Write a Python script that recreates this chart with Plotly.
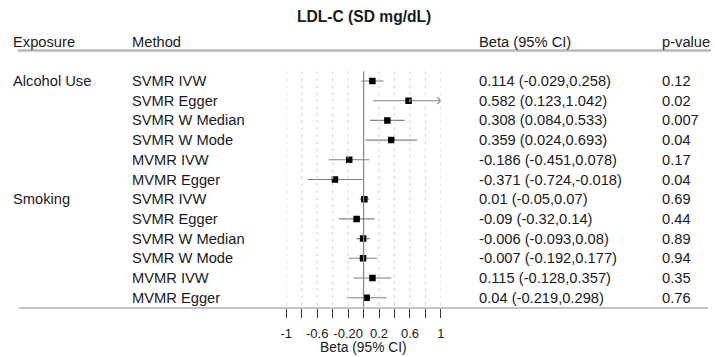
import plotly.graph_objects as go

# ---- data ----
exposures = ["Alcohol Use", "", "", "", "", "", "Smoking", "", "", "", "", ""]
methods = ["SVMR IVW", "SVMR Egger", "SVMR W Median", "SVMR W Mode", "MVMR IVW", "MVMR Egger",
           "SVMR IVW", "SVMR Egger", "SVMR W Median", "SVMR W Mode", "MVMR IVW", "MVMR Egger"]
beta = [0.114, 0.582, 0.308, 0.359, -0.186, -0.371, 0.01, -0.09, -0.006, -0.007, 0.115, 0.04]
lower = [-0.029, 0.123, 0.084, 0.024, -0.451, -0.724, -0.05, -0.32, -0.093, -0.192, -0.128, -0.219]
upper = [0.258, 1.042, 0.533, 0.693, 0.078, -0.018, 0.07, 0.14, 0.08, 0.177, 0.357, 0.298]
beta_txt = ["0.114 (-0.029,0.258)", "0.582 (0.123,1.042)", "0.308 (0.084,0.533)",
            "0.359 (0.024,0.693)", "-0.186 (-0.451,0.078)", "-0.371 (-0.724,-0.018)",
            "0.01 (-0.05,0.07)", "-0.09 (-0.32,0.14)", "-0.006 (-0.093,0.08)",
            "-0.007 (-0.192,0.177)", "0.115 (-0.128,0.357)", "0.04 (-0.219,0.298)"]
pvals = ["0.12", "0.02", "0.007", "0.04", "0.17", "0.04", "0.69", "0.44", "0.89", "0.94", "0.35", "0.76"]
tick_vals = [-1, -0.8, -0.6, -0.4, -0.2, 0, 0.2, 0.4, 0.6, 0.8, 1]
tick_text = ["-1", "", "-0.6", "", "-0.20", "", "0.2", "", "0.6", "", "1"]
x_min, x_max = -1, 1
title = "LDL-C (SD mg/dL)"
headers = ["Exposure", "Method", "Beta (95% CI)", "p-value"]

FONT = "Liberation Sans, Arial, sans-serif"
TXT = "#1a1a1a"
FS = 14.7
rows = list(range(1, len(methods) + 1))
row_bottom = len(methods) + 0.5

fig = go.Figure()

# CI segments (clipped to axis range)
cx, cy = [], []
for r, lo, hi in zip(rows, lower, upper):
    cx += [max(lo, x_min), min(hi, x_max), None]
    cy += [r, r, None]
# open arrowheads for CIs truncated at the axis limit
for r, hi in zip(rows, upper):
    if hi > x_max:
        cx += [x_max - 0.045, x_max, x_max - 0.045, None]
        cy += [r - 0.17, r, r + 0.17, None]
fig.add_trace(go.Scatter(x=cx, y=cy, mode="lines", line=dict(color="#7f7f7f", width=1.1),
                         hoverinfo="skip", showlegend=False))
# point estimates
fig.add_trace(go.Scatter(x=beta, y=rows, mode="markers",
                         marker=dict(symbol="square", size=6.5, color="black"),
                         showlegend=False))

shapes = []
# grid lines
for t in tick_vals:
    if t == 0:
        shapes.append(dict(type="line", xref="x", yref="y", x0=t, x1=t, y0=0.5, y1=row_bottom,
                           line=dict(color="#8a8a8a", width=1.3)))
    else:
        shapes.append(dict(type="line", xref="x", yref="y", x0=t, x1=t, y0=0.5, y1=row_bottom,
                           line=dict(color="#d2d2d2", width=1, dash="3px,4px")))
# header rule
shapes.append(dict(type="line", xref="paper", yref="y", x0=12 / 715, x1=1, y0=-0.55, y1=-0.55,
                   line=dict(color="#b8b8b8", width=2.5)))
# bottom rule
shapes.append(dict(type="line", xref="paper", yref="paper", x0=13 / 715, x1=712 / 715, y0=0, y1=0,
                   line=dict(color="#8a8a8a", width=1.2)))

annotations = []
col_x = [5.5 / 715, 126 / 715, 477.5 / 715, 663 / 715]
for hx, h in zip(col_x, headers):
    annotations.append(dict(x=hx, xref="paper", y=-1, yref="y", text=h, showarrow=False,
                            xanchor="left", yanchor="middle", font=dict(size=FS, color=TXT, family=FONT)))
for r, e, m, b, p in zip(rows, exposures, methods, beta_txt, pvals):
    for cxp, t in zip(col_x, [e, m, b, p]):
        if t:
            annotations.append(dict(x=cxp, xref="paper", y=r, yref="y", text=t, showarrow=False,
                                    xanchor="left", yanchor="middle",
                                    font=dict(size=FS, color=TXT, family=FONT)))
# title
annotations.append(dict(x=0, xref="x", y=-2.25, yref="y", text="<b>" + title + "</b>",
                        showarrow=False, xanchor="center", yanchor="middle",
                        font=dict(size=15.6, color=TXT, family=FONT)))
# axis title
annotations.append(dict(x=0, xref="x", y=-0.127, yref="paper", text="Beta (95% CI)",
                        showarrow=False, xanchor="center", yanchor="middle",
                        font=dict(size=13.8, color=TXT, family=FONT)))

fig.update_layout(
    width=715, height=357,
    margin=dict(l=0, r=0, t=0, b=49),
    paper_bgcolor="white", plot_bgcolor="white",
    shapes=shapes, annotations=annotations,
    xaxis=dict(domain=[284.3 / 715, 441 / 715], range=[x_min, x_max], showgrid=False,
               zeroline=False, showline=False, ticks="outside", ticklen=9, tickwidth=1,
               tickcolor="#333", tickvals=tick_vals, ticktext=tick_text, ticklabelstandoff=4,
               tickfont=dict(size=13, color=TXT, family=FONT)),
    yaxis=dict(range=[12.523, -3.112], showgrid=False, zeroline=False, showline=False,
               showticklabels=False, ticks=""),
    showlegend=False,
)
fig.write_html("out.html")
